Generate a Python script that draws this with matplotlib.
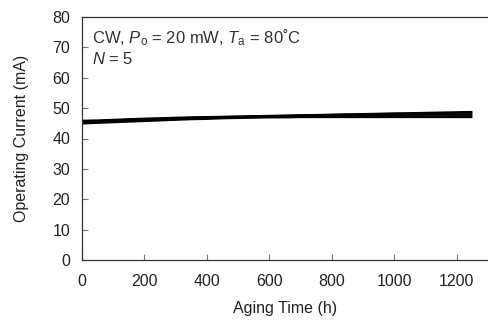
#!/usr/bin/env python3
"""Operating current vs aging time for five laser diodes (CW, Po = 20 mW, Ta = 80 C)."""

import matplotlib
matplotlib.use("Agg")
import matplotlib.pyplot as plt

plt.rcParams["font.family"] = ["Liberation Sans", "DejaVu Sans"]
plt.rcParams["mathtext.fontset"] = "custom"
plt.rcParams["mathtext.rm"] = "Liberation Sans"
plt.rcParams["mathtext.it"] = "Liberation Sans:italic"

hours = [0, 50, 100, 150, 200, 250, 300, 350, 400, 450, 500, 550, 600,
         650, 700, 750, 800, 850, 900, 950, 1000, 1050, 1100, 1150, 1200, 1250]

dev1 = [44.9, 45.1, 45.3, 45.5, 45.7, 45.9, 46.1, 46.3, 46.4, 46.6, 46.7, 46.8, 46.9,
        46.9, 47.0, 47.0, 47.0, 47.0, 47.0, 47.0, 47.0, 47.0, 47.0, 47.0, 47.0, 47.0]
dev2 = [45.2, 45.4, 45.6, 45.8, 46.0, 46.2, 46.4, 46.5, 46.7, 46.8, 46.9, 47.0, 47.1,
        47.2, 47.3, 47.3, 47.4, 47.4, 47.4, 47.4, 47.4, 47.4, 47.4, 47.4, 47.4, 47.4]
dev3 = [45.4, 45.6, 45.8, 46.0, 46.2, 46.4, 46.5, 46.7, 46.8, 47.0, 47.1, 47.2, 47.3,
        47.4, 47.5, 47.6, 47.6, 47.7, 47.7, 47.8, 47.8, 47.8, 47.9, 47.9, 47.9, 47.9]
dev4 = [45.6, 45.8, 46.0, 46.2, 46.4, 46.6, 46.7, 46.9, 47.0, 47.1, 47.2, 47.3, 47.4,
        47.5, 47.6, 47.7, 47.8, 47.9, 48.0, 48.1, 48.2, 48.2, 48.3, 48.3, 48.4, 48.4]
dev5 = [45.9, 46.0, 46.2, 46.4, 46.6, 46.7, 46.9, 47.0, 47.1, 47.2, 47.3, 47.4, 47.5,
        47.6, 47.7, 47.8, 47.9, 48.0, 48.1, 48.2, 48.3, 48.4, 48.5, 48.6, 48.7, 48.8]

xticks = [0, 200, 400, 600, 800, 1000, 1200]
yticks = [0, 10, 20, 30, 40, 50, 60, 70, 80]

fig = plt.figure(figsize=(4.88, 3.2), dpi=100)
ax = fig.add_axes([82 / 488, 60 / 320, 1 - 82 / 488, 243 / 320])

for dev in (dev1, dev2, dev3, dev4, dev5):
    ax.plot(hours, dev, color="black", lw=1.3, solid_capstyle="butt")

ax.set_xlim(0, 1300)
ax.set_ylim(0, 80)
ax.set_xticks(xticks)
ax.set_yticks(yticks)
ax.tick_params(direction="in", length=4, width=0.8, color="#777777",
               labelsize=11.5, labelcolor="#222222", pad=8.5)
ax.tick_params(axis="x", pad=10)
ax.spines["right"].set_visible(False)
for side in ("left", "bottom", "top"):
    ax.spines[side].set_color("#333333")
    ax.spines[side].set_linewidth(0.9)

ax.set_xlabel("Aging Time (h)", fontsize=11.5, color="#222222", labelpad=9)
ax.set_ylabel("Operating Current (mA)", fontsize=11.5, color="#222222", labelpad=17)

ax.text(0.025, 0.958, r"CW, $\mathit{P}_\mathrm{o}$ = 20 mW, $\mathit{T}_\mathrm{a}$ = 80˚C",
        transform=ax.transAxes, fontsize=12, color="#333333", va="top")
ax.text(0.025, 0.862, r"$\mathit{N}$ = 5", transform=ax.transAxes,
        fontsize=12, color="#333333", va="top")

fig.savefig("out.png", dpi=100)
